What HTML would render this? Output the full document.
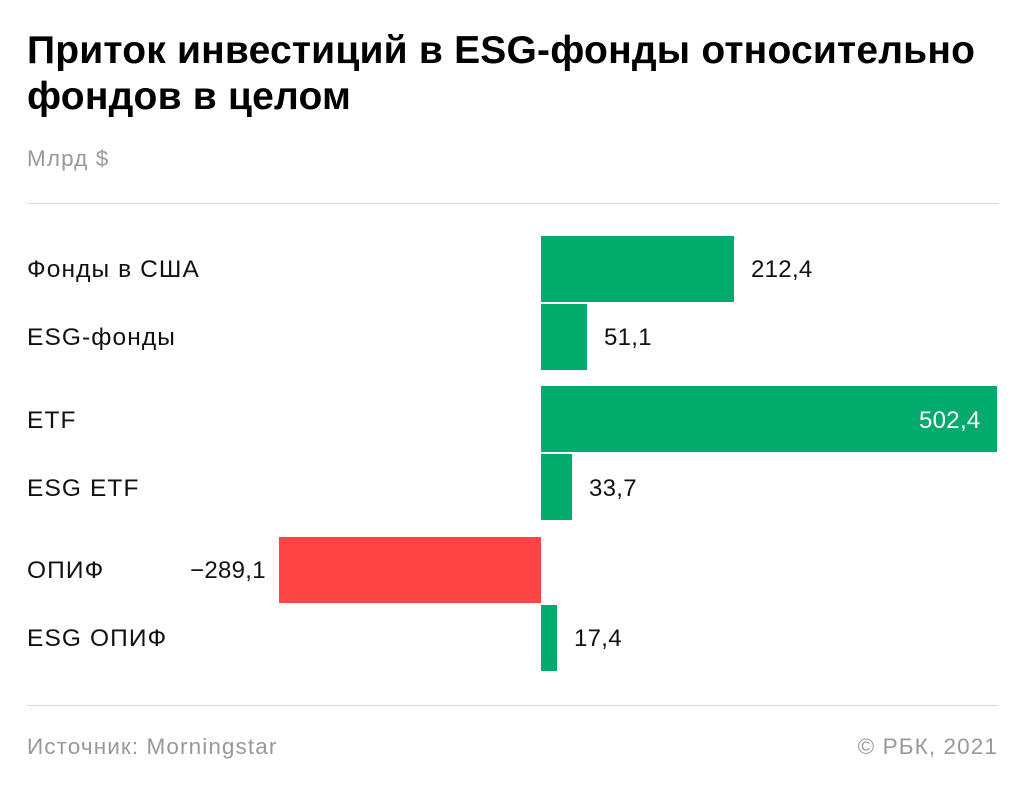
<!DOCTYPE html>
<html><head><meta charset="utf-8"><style>
body{margin:0;width:1024px;height:798px;background:#fff;font-family:"Liberation Sans","DejaVu Sans",sans-serif;position:relative;overflow:hidden}
.a{position:absolute;white-space:nowrap}
.t{left:27px;font-size:39px;font-weight:bold;color:#000;letter-spacing:0.2px}
.l{left:27px;font-size:24.5px;color:#111;letter-spacing:1.1px}
.v{font-size:24px;color:#111;letter-spacing:0.3px}
.g{background:#00ab6c;position:absolute;height:66px}
.r{background:#ff4444;position:absolute;height:66px}
.hr{position:absolute;left:27px;width:971px;height:1px;background:#d8d8d8}
.f{font-size:22.5px;color:#999;letter-spacing:1.1px}
</style></head><body>
<div class="a t" style="top:29px">Приток инвестиций в ESG-фонды относительно</div>
<div class="a t" style="top:75px">фондов в целом</div>
<div class="a f" style="left:27px;top:146px">Млрд $</div>
<div class="hr" style="top:203px"></div>

<div class="a l" style="top:256px">Фонды в США</div>
<div class="g" style="left:541px;top:236px;width:193px"></div>
<div class="a v" style="left:751px;top:256px">212,4</div>

<div class="a l" style="top:324px">ESG-фонды</div>
<div class="g" style="left:541px;top:304px;width:46px"></div>
<div class="a v" style="left:604px;top:324px">51,1</div>

<div class="a l" style="top:407px">ETF</div>
<div class="g" style="left:541px;top:386px;width:456px"></div>
<div class="a v" style="left:919px;top:407px;color:#fff">502,4</div>

<div class="a l" style="top:475px">ESG ETF</div>
<div class="g" style="left:541px;top:454px;width:31px"></div>
<div class="a v" style="left:589px;top:475px">33,7</div>

<div class="a l" style="top:557px">ОПИФ</div>
<div class="r" style="left:279px;top:537px;width:262px"></div>
<div class="a v" style="left:190px;top:557px">−289,1</div>

<div class="a l" style="top:625px">ESG ОПИФ</div>
<div class="g" style="left:541px;top:605px;width:16px"></div>
<div class="a v" style="left:574px;top:625px">17,4</div>

<div class="hr" style="top:705px"></div>
<div class="a f" style="left:27px;top:734px">Источник: Morningstar</div>
<div class="a f" style="right:26px;top:734px">© РБК, 2021</div>
</body></html>
